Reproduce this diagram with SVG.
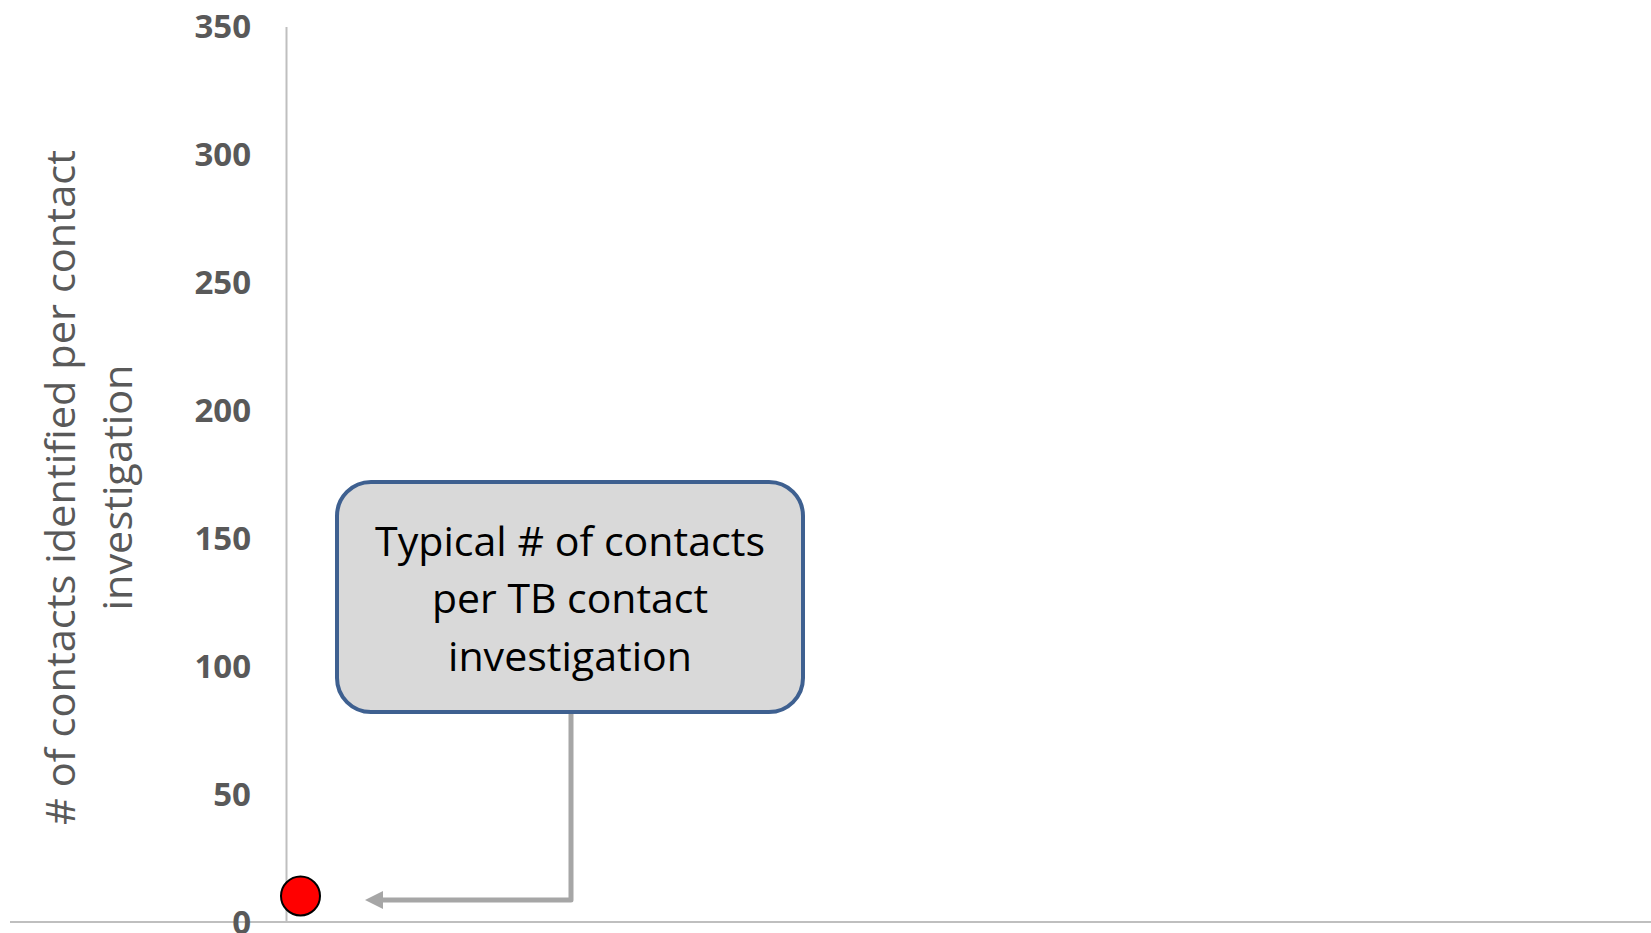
<svg xmlns="http://www.w3.org/2000/svg" width="1651" height="933" viewBox="0 0 1651 933">
<style>
.tick{font-family:"Open Sans","Liberation Sans",sans-serif;font-weight:bold;font-size:33px;fill:#595959;text-anchor:end}
.title{font-family:"Open Sans","Liberation Sans",sans-serif;font-size:41px;fill:#595959;text-anchor:middle}
.box{font-family:"Open Sans","Liberation Sans",sans-serif;font-size:41px;fill:#000;text-anchor:middle}
.axis{stroke:#bfbfbf;stroke-width:2;fill:none}
</style>
<defs>
<marker id="arr" viewBox="0 0 10 10" refX="0" refY="5" markerWidth="3.6" markerHeight="3.8" orient="auto" markerUnits="strokeWidth">
<path d="M0,0 L10,5 L0,10 z" fill="#a6a6a6"/>
</marker>
</defs>
<rect width="1651" height="933" fill="#fff"/>
<g id="axes">
<line class="axis" x1="286.5" y1="27" x2="286.5" y2="922"/>
<line class="axis" x1="10" y1="922" x2="1651" y2="922"/>
</g>
<g id="ticks">
<text class="tick" x="251" y="38">350</text>
<text class="tick" x="251" y="166">300</text>
<text class="tick" x="251" y="294">250</text>
<text class="tick" x="251" y="422">200</text>
<text class="tick" x="251" y="550">150</text>
<text class="tick" x="251" y="678">100</text>
<text class="tick" x="251" y="806">50</text>
<text class="tick" x="251" y="934">0</text>
</g>
<g id="axis-title" transform="translate(75,487.5) rotate(-90)">
<text class="title" x="0" y="0" textLength="675" lengthAdjust="spacingAndGlyphs"># of contacts identified per contact</text>
<text class="title" x="0" y="57" textLength="246" lengthAdjust="spacingAndGlyphs">investigation</text>
</g>
<g id="connectors">
<path d="M571,713 V900 H383" fill="none" stroke="#a6a6a6" stroke-width="5" stroke-linejoin="round" marker-end="url(#arr)"/>
</g>
<g id="callout">
<rect x="337" y="482" width="466" height="230" rx="34" ry="34" fill="#d9d9d9" stroke="#3e6090" stroke-width="4"/>
<text class="box" x="570" y="555.5" textLength="390" lengthAdjust="spacingAndGlyphs">Typical # of contacts</text>
<text class="box" x="570" y="613" textLength="276" lengthAdjust="spacingAndGlyphs">per TB contact</text>
<text class="box" x="570" y="670.5" textLength="244" lengthAdjust="spacingAndGlyphs">investigation</text>
</g>
<g id="point">
<circle cx="300.5" cy="896" r="19.5" fill="#ff0000" stroke="#000" stroke-width="2"/>
</g>
</svg>
